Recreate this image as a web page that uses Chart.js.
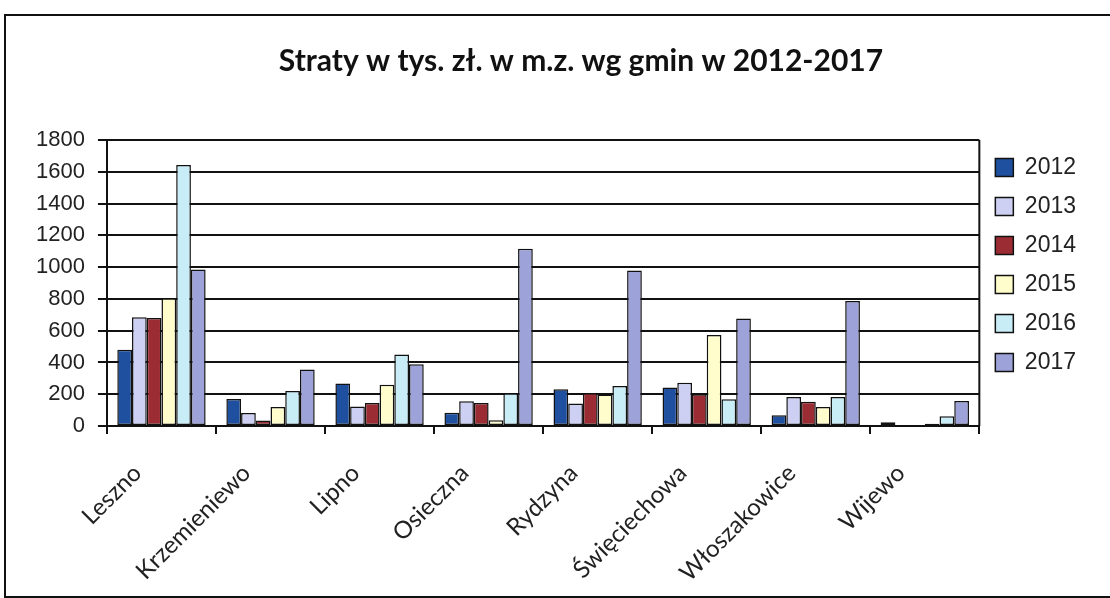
<!DOCTYPE html>
<html>
<head>
<meta charset="utf-8">
<script src="https://cdn.jsdelivr.net/npm/chart.js@4/dist/chart.umd.min.js"></script>
<style>
  html, body { margin: 0; padding: 0; background: #fff; overflow: hidden; }
  #wrap { position: relative; width: 1110px; height: 598px; }
</style>
</head>
<body>
<div id="wrap"><canvas id="myChart"></canvas></div>
<script>
const gminy = ['Leszno', 'Krzemieniewo', 'Lipno', 'Osieczna', 'Rydzyna', 'Święciechowa', 'Włoszakowice', 'Wijewo'];
const lata = ['2012', '2013', '2014', '2015', '2016', '2017'];

const straty2012 = [480, 170, 267, 84, 232, 242, 67, 23];
const straty2013 = [684, 82, 122, 156, 141, 272, 183, 4];
const straty2014 = [680, 34, 145, 145, 208, 200, 152, 4];
const straty2015 = [804, 120, 259, 36, 198, 573, 120, 14];
const straty2016 = [1642, 221, 450, 206, 251, 168, 183, 61];
const straty2017 = [985, 356, 388, 1116, 979, 676, 787, 157];

const kolory = ['#1f4f9f', '#cdd0f2', '#9c2c33', '#fffdcc', '#c9edf7', '#9da3d8'];

const tytul = 'Straty w tys. zł. w m.z. wg gmin w 2012-2017';

const serie = [straty2012, straty2013, straty2014, straty2015, straty2016, straty2017];

const dataBar = {
  labels: gminy,
  datasets: serie.map((s, i) => ({
    label: lata[i],
    data: s,
    backgroundColor: kolory[i],
    borderColor: '#111',
    borderWidth: 1.5,
    borderSkipped: false,
    barPercentage: 1,
    categoryPercentage: 0.81
  }))
};

// ramka wykresu, prawa krawedz obszaru i tytul
const ramka = {
  id: 'ramka',
  beforeDraw(chart) {
    const ctx = chart.ctx;
    ctx.save();
    ctx.fillStyle = '#fff';
    ctx.fillRect(0, 0, chart.width, chart.height);
    ctx.strokeStyle = '#111';
    ctx.lineWidth = 2;
    ctx.strokeRect(5, 15, 1300, 582);
    ctx.restore();
  },
  afterDraw(chart) {
    const ctx = chart.ctx;
    const a = chart.chartArea;
    ctx.save();
    ctx.strokeStyle = '#111';
    ctx.lineWidth = 2;
    ctx.beginPath();
    ctx.moveTo(a.right, a.top);
    ctx.lineTo(a.right, a.bottom);
    ctx.stroke();
    ctx.fillStyle = '#111';
    ctx.font = 'bold 30px Lato';
    ctx.textAlign = 'center';
    ctx.textBaseline = 'middle';
    ctx.fillText(tytul, 581, 61);
    ctx.restore();
  }
};

const config = {
  type: 'bar',
  data: dataBar,
  options: {
    responsive: true,
    maintainAspectRatio: false,
    animation: false,
    layout: {
      padding: { top: 140, left: 23, right: 24, bottom: 0 }
    },
    plugins: {
      title: { display: false },
      tooltip: { enabled: false },
      legend: {
        position: 'right',
        align: 'start',
        labels: {
          boxWidth: 18,
          boxHeight: 18,
          padding: 16,
          color: '#222',
          font: { family: 'Liberation Sans', size: 23 }
        }
      }
    },
    scales: {
      x: {
        afterFit(scale) {
          scale.height = 172;
        },
        grid: {
          display: true,
          offset: true,
          drawOnChartArea: false,
          color: '#111',
          lineWidth: 2,
          tickLength: 8
        },
        border: { color: '#111', width: 2 },
        ticks: {
          color: '#222',
          font: { family: 'Lato', size: 24 },
          minRotation: 45,
          maxRotation: 45,
          padding: 25,
          labelOffset: -24
        }
      },
      y: {
        min: 0,
        max: 1800,
        grid: {
          color: '#111',
          lineWidth: 2,
          tickLength: 9
        },
        border: { color: '#111', width: 2 },
        ticks: {
          stepSize: 200,
          color: '#222',
          padding: 13,
          font: { family: 'Liberation Sans', size: 22 },
          callback: v => String(v)
        }
      }
    }
  },
  plugins: [ramka]
};

const myChart = new Chart(
  document.getElementById('myChart'),
  config
);
</script>
</body>
</html>
